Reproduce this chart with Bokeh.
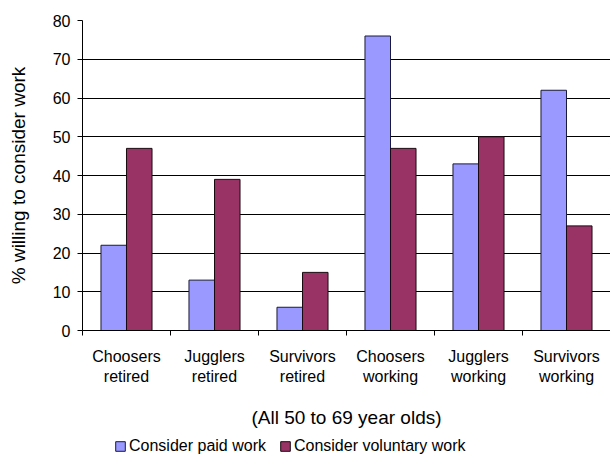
from bokeh.plotting import figure
from bokeh.models import FixedTicker, Legend, LegendItem, ColumnDataSource, Range1d
from bokeh.layouts import column
from bokeh.embed import file_html
from bokeh.resources import INLINE

categories = ["Choosers\nretired", "Jugglers\nretired", "Survivors\nretired",
              "Choosers\nworking", "Jugglers\nworking", "Survivors\nworking"]
paid = [22, 13, 6, 76, 43, 62]
voluntary = [47, 39, 15, 47, 50, 27]
y_ticks = [0, 10, 20, 30, 40, 50, 60, 70, 80]
series_names = ["Consider paid work", "Consider voluntary work"]

FONT = "Liberation Sans"
BAR_W = 0.29
COLORS = ["#9999FF", "#993366"]
EDGES = ["#1a1a3a", "#1a0a10"]

n = len(categories)
centers = [i + 0.5 for i in range(n)]
src_paid = ColumnDataSource(dict(x=[c - BAR_W / 2 for c in centers], top=paid))
src_vol = ColumnDataSource(dict(x=[c + BAR_W / 2 for c in centers], top=voluntary))

p = figure(width=610, height=432, output_backend="svg", toolbar_location=None,
           x_range=Range1d(0, n), y_range=Range1d(0, 80),
           min_border_left=82, min_border_right=0, min_border_top=20, min_border_bottom=102)
p.outline_line_color = None
p.background_fill_color = "white"
p.border_fill_color = "white"

p.vbar(x="x", top="top", width=BAR_W, bottom=0, source=src_paid,
       fill_color=COLORS[0], line_color=EDGES[0], line_width=1)
p.vbar(x="x", top="top", width=BAR_W, bottom=0, source=src_vol,
       fill_color=COLORS[1], line_color=EDGES[1], line_width=1)

# x axis
p.xaxis.ticker = FixedTicker(ticks=centers, minor_ticks=list(range(n + 1)))
p.xaxis.major_label_overrides = {c: lab for c, lab in zip(centers, categories)}
p.xaxis.major_tick_out = 0
p.xaxis.major_tick_in = 0
p.xaxis.minor_tick_out = 5
p.xaxis.minor_tick_in = 0
p.xaxis.minor_tick_line_color = "black"
p.xaxis.axis_line_color = "black"
p.xaxis.major_label_text_font = FONT
p.xaxis.major_label_text_font_size = "16px"
p.xaxis.major_label_text_color = "black"
p.xaxis.major_label_standoff = 12
p.xaxis.axis_label = "(All 50 to 69 year olds)"
p.xaxis.axis_label_text_font = FONT
p.xaxis.axis_label_text_font_size = "19px"
p.xaxis.axis_label_text_font_style = "normal"
p.xaxis.axis_label_text_color = "black"
p.xaxis.axis_label_standoff = 19

# y axis
p.yaxis.ticker = FixedTicker(ticks=y_ticks)
p.yaxis.major_tick_out = 5
p.yaxis.major_tick_in = 0
p.yaxis.minor_tick_line_color = None
p.yaxis.axis_line_color = "black"
p.yaxis.major_label_text_font = FONT
p.yaxis.major_label_text_font_size = "16px"
p.yaxis.major_label_text_color = "black"
p.yaxis.major_label_standoff = 7
p.yaxis.axis_label = "% willing to consider work"
p.yaxis.axis_label_text_font = FONT
p.yaxis.axis_label_text_font_size = "19px"
p.yaxis.axis_label_text_font_style = "normal"
p.yaxis.axis_label_text_color = "black"
p.yaxis.axis_label_standoff = 21

p.xgrid.grid_line_color = None
p.ygrid.ticker = FixedTicker(ticks=y_ticks)
p.ygrid.grid_line_color = "black"
p.ygrid.grid_line_width = 1

# legend strip below the chart (its frame is aligned with the chart's frame)
lg = figure(width=610, height=32, output_backend="svg", toolbar_location=None,
            x_range=Range1d(0, 1), y_range=Range1d(0, 1),
            x_axis_location=None, y_axis_location=None,
            min_border_left=0, min_border_right=0, min_border_top=0, min_border_bottom=0)
lg.outline_line_color = None
lg.xgrid.visible = False
lg.ygrid.visible = False
# placeholder renderers (outside the visible range) that carry the legend swatch styles
l1 = lg.vbar(x=[-5], top=[0], width=0.1, fill_color=COLORS[0], line_color=EDGES[0])
l2 = lg.vbar(x=[-5], top=[0], width=0.1, fill_color=COLORS[1], line_color=EDGES[1])
legend = Legend(items=[LegendItem(label=series_names[0], renderers=[l1]),
                       LegendItem(label=series_names[1], renderers=[l2])],
                orientation="horizontal", location=(32, 9),
                border_line_color=None, background_fill_alpha=0,
                padding=0, margin=0, spacing=13, label_standoff=3,
                glyph_width=12, glyph_height=12,
                label_text_font=FONT, label_text_font_size="16px",
                label_text_color="black")
lg.add_layout(legend, "center")

layout = column(p, lg, spacing=0)
open("out.html", "w").write(file_html(layout, INLINE))
